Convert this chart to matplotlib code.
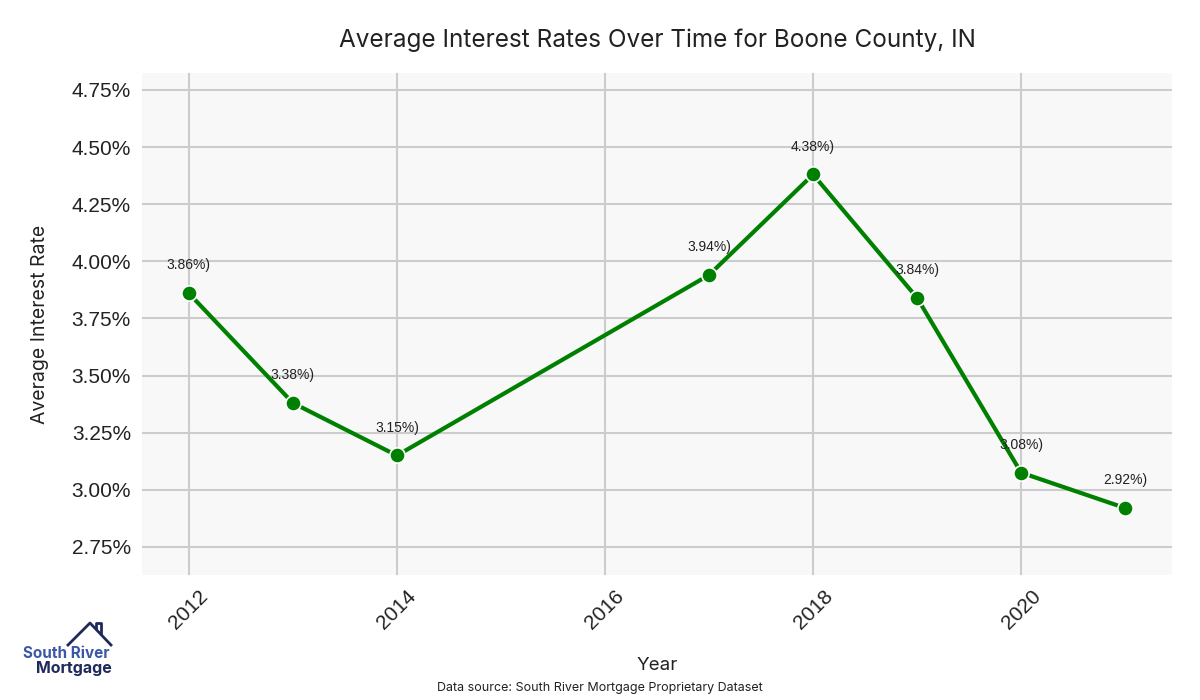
import numpy as np
import matplotlib
matplotlib.use("Agg")
import matplotlib.pyplot as plt
from matplotlib.lines import Line2D
from matplotlib.ticker import FuncFormatter

# data
years = [2012, 2013, 2014, 2017, 2018, 2019, 2020, 2021]
rates = [3.86, 3.38, 3.15, 3.94, 4.38, 3.84, 3.075, 2.92]
labels = ["3.86%)", "3.38%)", "3.15%)", "3.94%)", "4.38%)", "3.84%)", "3.08%)", "2.92%)"]
y_ticks = [2.75, 3.00, 3.25, 3.50, 3.75, 4.00, 4.25, 4.50, 4.75]
x_ticks = [2012, 2014, 2016, 2018, 2020]

fig = plt.figure(figsize=(12, 7), dpi=100)
ax = fig.add_axes([142 / 1200, 1 - 575 / 700, (1172 - 142) / 1200, (575 - 73) / 700])
ax.set_facecolor("#f8f8f8")
for s in ax.spines.values():
    s.set_visible(False)
ax.grid(True, color="#cccccc", linewidth=1.5)
ax.set_axisbelow(True)

ax.plot(years, rates, color="green", linewidth=3, marker="o", markersize=11,
        markeredgecolor="white", markeredgewidth=1.2, zorder=3)
for x, y, t in zip(years, rates, labels):
    ax.annotate(t, (x, y), xytext=(0, 15), textcoords="offset points",
                ha="center", va="bottom", fontsize=10, color="#222222",
                family="Liberation Sans")

ax.set_xlim(2011.55, 2021.45)
ax.set_ylim(2.627, 4.824)
ax.set_yticks(y_ticks)
ax.set_xticks(x_ticks)
ax.yaxis.set_major_formatter(FuncFormatter(lambda v, p: f"{v:.2f}%"))
ax.tick_params(length=0, labelsize=15, colors="#222222", pad=8)
for lab in ax.get_xticklabels() + ax.get_yticklabels():
    lab.set_family("Liberation Sans")
plt.setp(ax.get_xticklabels(), rotation=45)

ax.set_xlabel("Year", family="Inter", fontsize=13.5, color="#222222", labelpad=18)
ax.set_ylabel("Average Interest Rate", family="Inter", fontsize=14, color="#222222", labelpad=16)
fig.text(0.548, 1 - 40 / 700, "Average Interest Rates Over Time for Boone County, IN",
         ha="center", va="center", family="Inter", fontsize=17.5, color="#222222")
fig.text(0.5, 1 - 688 / 700, "Data source: South River Mortgage Proprietary Dataset",
         ha="center", va="center", family="Inter", fontsize=9, color="#222222")

# logo
navy = "#1f2a5c"
fig.text(66 / 1200, 1 - 653 / 700, "South River", ha="center", va="center",
         family="Inter", fontsize=11, fontweight="bold", color="#3d57a8")
fig.text(74 / 1200, 1 - 669 / 700, "Mortgage", ha="center", va="center",
         family="Inter", fontsize=11.5, fontweight="bold", color=navy)
rx = np.array([68, 90, 111]) / 1200
ry = 1 - np.array([645, 623, 645]) / 700
fig.add_artist(Line2D(rx, ry, color=navy, linewidth=2))
cx = np.array([96, 96, 101, 101]) / 1200
cy = 1 - np.array([628, 623, 623, 633]) / 700
fig.add_artist(Line2D(cx, cy, color=navy, linewidth=2))

fig.savefig("out.png", dpi=100)
